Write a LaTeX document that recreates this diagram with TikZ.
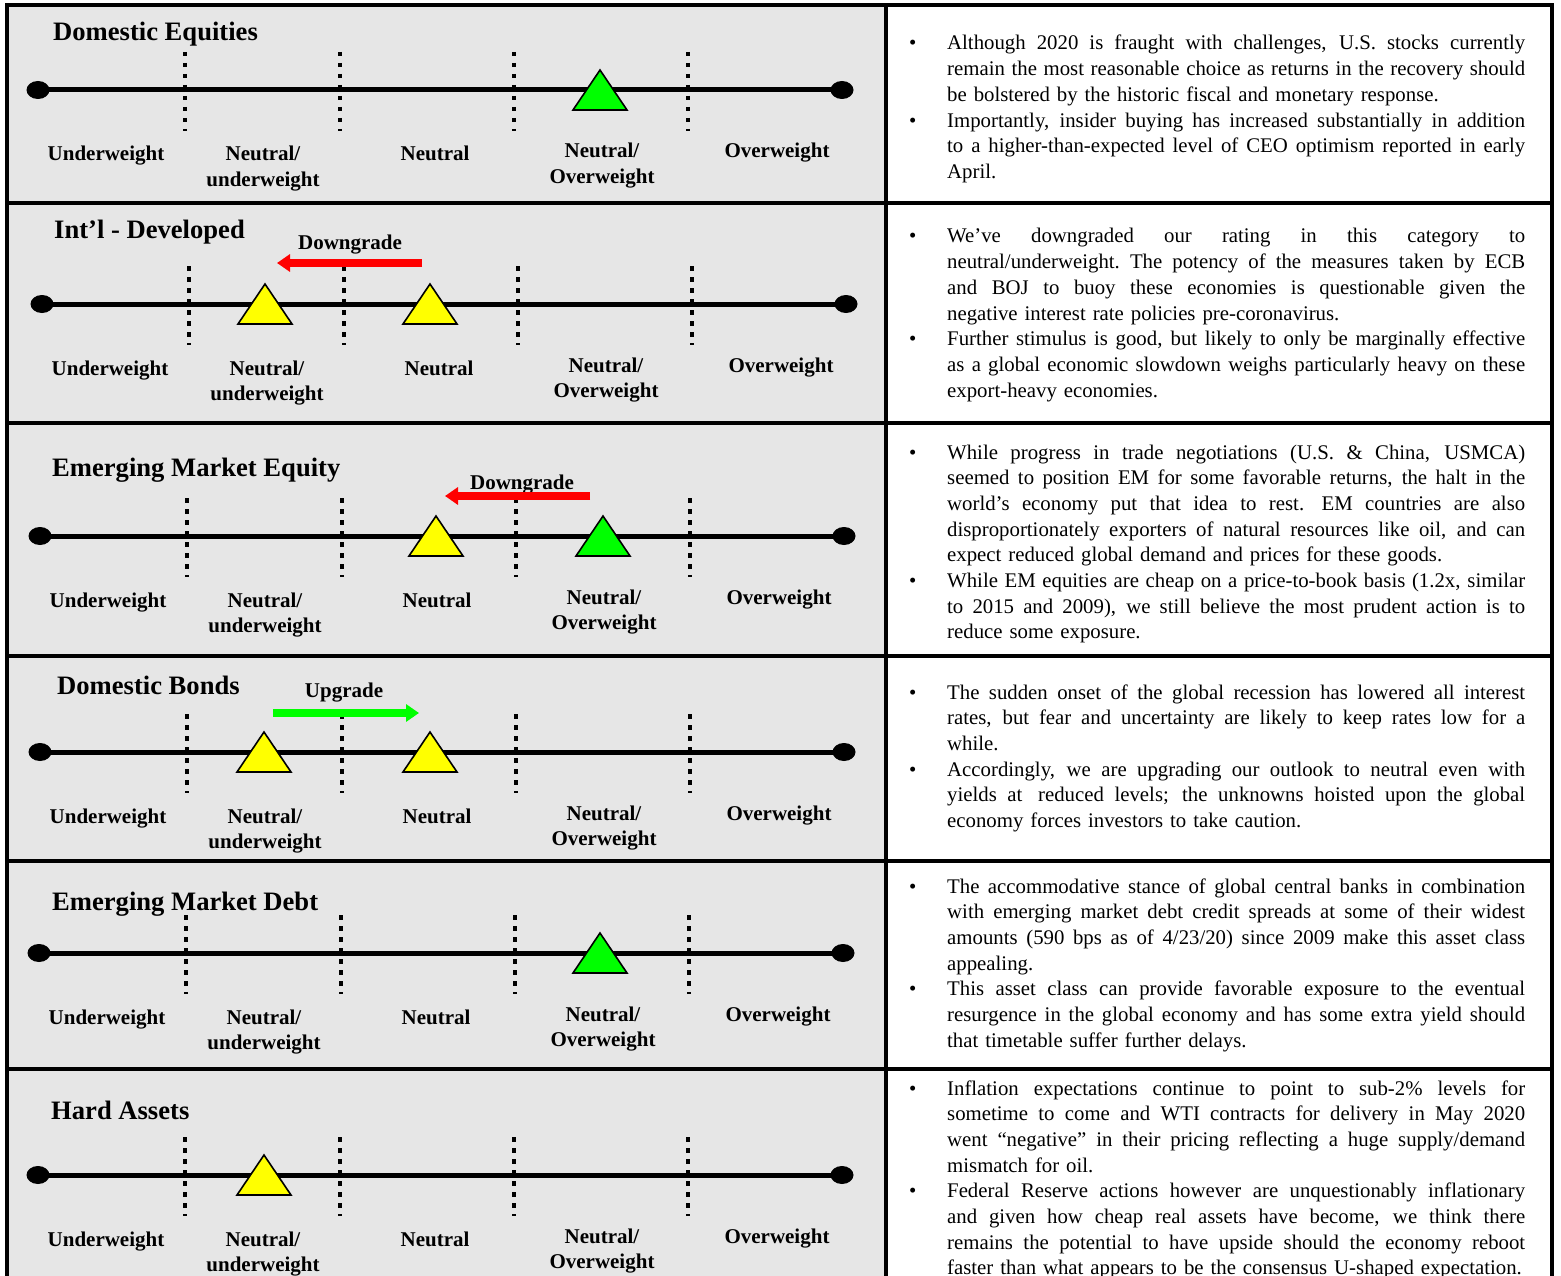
\documentclass[tikz,border=0pt]{standalone}
\usepackage{fontspec}
\setmainfont{Liberation Serif}
\usetikzlibrary{arrows.meta,shapes.geometric}
\definecolor{panelgray}{RGB}{230,230,230}
\definecolor{mkyellow}{RGB}{255,255,0}
\definecolor{mkgreen}{RGB}{0,255,0}
\definecolor{mkred}{RGB}{255,0,0}
\tikzset{
  frameline/.style={line width=4pt, draw=black},
  scaleline/.style={line width=5pt, draw=black},
  enddot/.style={shape=ellipse, fill=black, inner sep=0pt, minimum width=23pt, minimum height=18pt},
  divline/.style={line width=4.5pt, dash pattern=on 4.5pt off 6.5pt},
  tri/.style={draw=black, line width=1.6pt, line join=miter},
  rowtitle/.style={font=\fontsize{26.6}{30}\selectfont\bfseries, anchor=base west, inner sep=0pt},
  lab/.style={font=\fontsize{21}{25.5}\selectfont\bfseries, anchor=base, align=center, inner sep=0pt},
  body/.style={font=\fontsize{20.8}{25.7}\selectfont, anchor=base west, inner sep=0pt, text width=620pt},
  gradearrow/.style={line width=8pt, -{Triangle[length=13pt,width=17pt]}}
}
\newcommand\ratingrow[3]{%
  \node[enddot] (#1L) at ({38+#2},#3) {};
  \node[enddot] (#1R) at ({842+#2},#3) {};
  \draw[scaleline] (#1L.center) -- (#1R.center);
  \foreach \dx [count=\i] in {185,340,514,688}{
    \coordinate (#1t\i) at ({\dx+#2},{#3-38});
    \coordinate (#1b\i) at ({\dx+#2},{#3+41});
    \draw[divline] (#1t\i) -- (#1b\i);
  }
  \node[lab] (#1uw) at ({106+#2},{#3+71}) {Underweight};
  \node[lab] (#1nu) at ({263+#2},{#3+96.5}) {Neutral/\\underweight};
  \node[lab] (#1n)  at ({435+#2},{#3+71}) {Neutral};
  \node[lab] (#1no) at ({602+#2},{#3+93.5}) {Neutral/\\Overweight};
  \node[lab] (#1ow) at ({777+#2},{#3+68}) {Overweight};
}
\newcommand\marker[4]{%
  \coordinate (#1) at (#2,#3);
  \draw[tri, fill=#4] ([shift={(-27,20)}]#1) -- ([shift={(0,-20)}]#1) -- ([shift={(27,20)}]#1) -- cycle;
}
\newcommand\jbox[1]{\hbox to 578pt{\spaceskip=\fontdimen2\font plus 1fil minus 0.3\fontdimen2\font
  \xspaceskip=\spaceskip #1}}
\newcommand\bl[1]{\noindent\hbox to 38pt{\textbullet\hfil}\jbox{#1}\par}
\newcommand\jl[1]{\noindent\hspace*{38pt}\jbox{#1}\par}
\newcommand\el[1]{\noindent\hspace*{38pt}\hbox{#1}\par}
\begin{document}
\begin{tikzpicture}[x=1pt,y=-1pt]
\useasboundingbox (0,0) rectangle (1561,1276);
\clip (0,0) rectangle (1561,1276);
\fill[white] (0,0) rectangle (1561,1276);
\fill[panelgray] (7,5.5) rectangle (886,1300);
% frame
\draw[frameline] (7,1300) -- (7,5.5) -- (1552,5.5) -- (1552,1300);
\draw[frameline] (886,5.5) -- (886,1300);
\foreach \yy in {203,423,656,861,1069}{\draw[frameline] (7,\yy) -- (1552,\yy);}

% Row 1
\node[rowtitle] (t1) at (53,41) {Domestic Equities};
\ratingrow{ra}{0}{90}
\marker{ma1}{600}{90}{mkgreen}

% Row 2
\node[rowtitle] (t2) at (54,239) {Int’l - Developed};
\ratingrow{rb}{4}{304}
\marker{mb1}{265}{304}{mkyellow}
\marker{mb2}{430}{304}{mkyellow}
\node[lab] (g2) at (350,250) {Downgrade};
\coordinate (a2s) at (422,263);
\coordinate (a2e) at (277,263);
\draw[gradearrow, mkred] (a2s) -- (a2e);

% Row 3
\node[rowtitle] (t3) at (52,476) {Emerging Market Equity};
\ratingrow{rc}{2}{536}
\marker{mc1}{436}{536}{mkyellow}
\marker{mc2}{603}{536}{mkgreen}
\node[lab] (g3) at (522,489) {Downgrade};
\coordinate (a3s) at (590,496);
\coordinate (a3e) at (445,496);
\draw[gradearrow, mkred] (a3s) -- (a3e);

% Row 4
\node[rowtitle] (t4) at (57,694) {Domestic Bonds};
\ratingrow{rd}{2}{752}
\marker{md1}{264}{752}{mkyellow}
\marker{md2}{430}{752}{mkyellow}
\node[lab] (g4) at (344,697) {Upgrade};
\coordinate (a4s) at (273,713);
\coordinate (a4e) at (419,713);
\draw[gradearrow, mkgreen] (a4s) -- (a4e);

% Row 5
\node[rowtitle] (t5) at (52,910) {Emerging Market Debt};
\ratingrow{re}{1}{953}
\marker{me1}{600}{953}{mkgreen}

% Row 6
\node[rowtitle] (t6) at (51,1119) {Hard Assets};
\ratingrow{rf}{0}{1175}
\marker{mf1}{264}{1175}{mkyellow}

% Commentary
\node[body] (c1) at (909,50) {\parskip=0pt
\bl{Although 2020 is fraught with challenges, U.S. stocks currently}
\jl{remain the most reasonable choice as returns in the recovery should}
\el{be bolstered by the historic fiscal and monetary response.}
\bl{Importantly, insider buying has increased substantially in addition}
\jl{to a higher-than-expected level of CEO optimism reported in early}
\el{April.}};

\node[body] (c2) at (909,243) {\parskip=0pt
\bl{We’ve downgraded our rating in this category to}
\jl{neutral/underweight. The potency of the measures taken by ECB}
\jl{and BOJ to buoy these economies is questionable given the}
\el{negative interest rate policies pre-coronavirus.}
\bl{Further stimulus is good, but likely to only be marginally effective}
\jl{as a global economic slowdown weighs particularly heavy on these}
\el{export-heavy economies.}};

\node[body] (c3) at (909,459) {\parskip=0pt
\bl{While progress in trade negotiations (U.S. \& China, USMCA)}
\jl{seemed to position EM for some favorable returns, the halt in the}
\jl{world’s economy put that idea to rest.\hspace{5pt} EM countries are also}
\jl{disproportionately exporters of natural resources like oil, and can}
\el{expect reduced global demand and prices for these goods.}
\bl{While EM equities are cheap on a price-to-book basis (1.2x, similar}
\jl{to 2015 and 2009), we still believe the most prudent action is to}
\el{reduce some exposure.}};

\node[body] (c4) at (909,699) {\parskip=0pt
\bl{The sudden onset of the global recession has lowered all interest}
\jl{rates, but fear and uncertainty are likely to keep rates low for a}
\el{while.}
\bl{Accordingly, we are upgrading our outlook to neutral even with}
\jl{yields at\hspace{5pt} reduced levels; the unknowns hoisted upon the global}
\el{economy forces investors to take caution.}};

\node[body] (c5) at (909,893) {\parskip=0pt
\bl{The accommodative stance of global central banks in combination}
\jl{with emerging market debt credit spreads at some of their widest}
\jl{amounts (590 bps as of 4/23/20) since 2009 make this asset class}
\el{appealing.}
\bl{This asset class can provide favorable exposure to the eventual}
\jl{resurgence in the global economy and has some extra yield should}
\el{that timetable suffer further delays.}};

\node[body] (c6) at (909,1095) {\parskip=0pt
\bl{Inflation expectations continue to point to sub-2\% levels for}
\jl{sometime to come and WTI contracts for delivery in May 2020}
\jl{went “negative” in their pricing reflecting a huge supply/demand}
\el{mismatch for oil.}
\bl{Federal Reserve actions however are unquestionably inflationary}
\jl{and given how cheap real assets have become, we think there}
\jl{remains the potential to have upside should the economy reboot}
\el{faster than what appears to be the consensus U-shaped expectation.}};
\end{tikzpicture}
\end{document}
